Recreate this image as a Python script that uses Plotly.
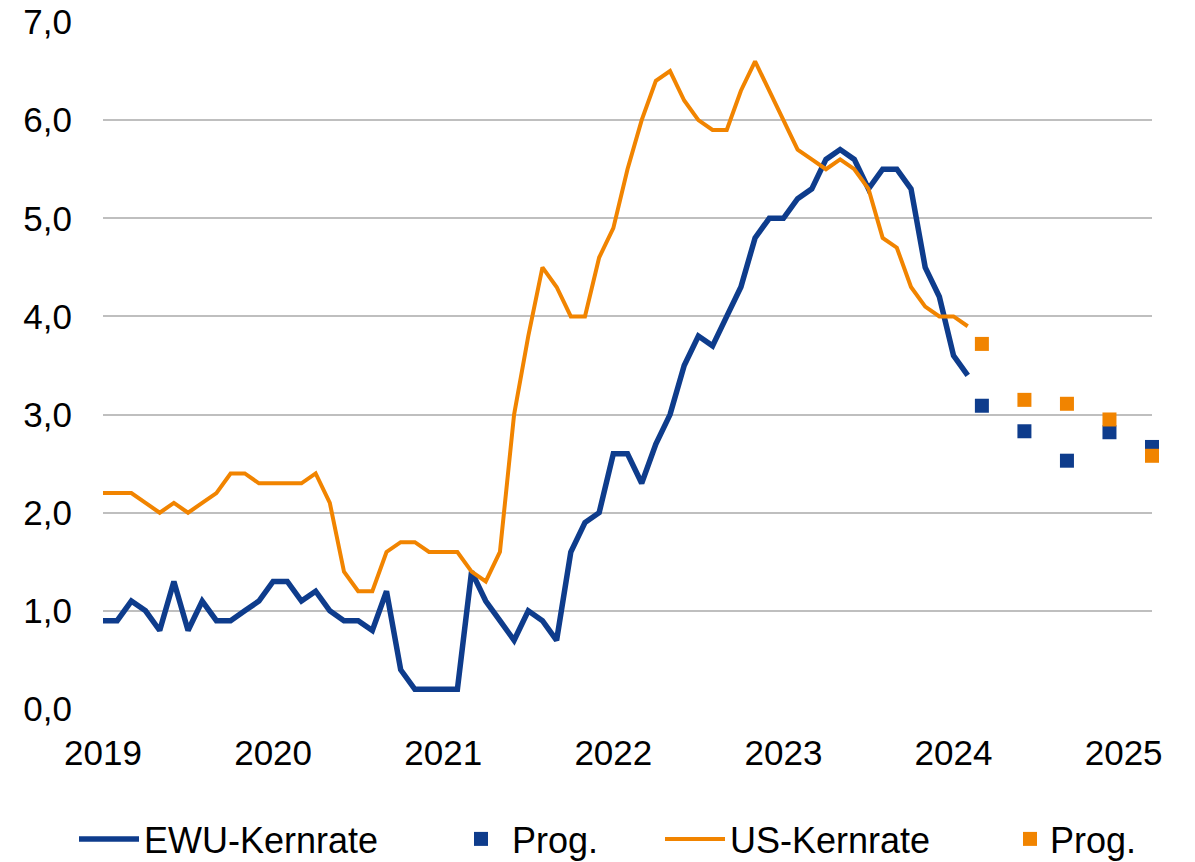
import plotly.graph_objects as go

# Monthly index positions (0 = first observation, labelled "2019")
year_labels = ["2019", "2020", "2021", "2022", "2023", "2024", "2025"]
year_positions = [0, 12, 24, 36, 48, 60, 72]

ewu_kernrate = [0.9, 0.9, 1.1, 1.0, 0.8, 1.3, 0.8, 1.1, 0.9, 0.9, 1.0, 1.1,
                1.3, 1.3, 1.1, 1.2, 1.0, 0.9, 0.9, 0.8, 1.2, 0.4, 0.2, 0.2,
                0.2, 0.2, 1.4, 1.1, 0.9, 0.7, 1.0, 0.9, 0.7, 1.6, 1.9, 2.0,
                2.6, 2.6, 2.3, 2.7, 3.0, 3.5, 3.8, 3.7, 4.0, 4.3, 4.8, 5.0,
                5.0, 5.2, 5.3, 5.6, 5.7, 5.6, 5.3, 5.5, 5.5, 5.3, 4.5, 4.2,
                3.6, 3.4]
us_kernrate = [2.2, 2.2, 2.2, 2.1, 2.0, 2.1, 2.0, 2.1, 2.2, 2.4, 2.4, 2.3,
               2.3, 2.3, 2.3, 2.4, 2.1, 1.4, 1.2, 1.2, 1.6, 1.7, 1.7, 1.6,
               1.6, 1.6, 1.4, 1.3, 1.6, 3.0, 3.8, 4.5, 4.3, 4.0, 4.0, 4.6,
               4.9, 5.5, 6.0, 6.4, 6.5, 6.2, 6.0, 5.9, 5.9, 6.3, 6.6, 6.3,
               6.0, 5.7, 5.6, 5.5, 5.6, 5.5, 5.3, 4.8, 4.7, 4.3, 4.1, 4.0,
               4.0, 3.9]
months = list(range(len(ewu_kernrate)))

prog_positions = [62, 65, 68, 71, 74]
ewu_prog = [3.09, 2.83, 2.53, 2.82, 2.67]
us_prog = [3.72, 3.15, 3.11, 2.95, 2.58]

BLUE = "#0E3C8C"
ORANGE = "#F18400"
FONT = "Arial, Liberation Sans, sans-serif"

fig = go.Figure()
fig.add_trace(go.Scatter(x=months, y=ewu_kernrate, mode="lines", name="EWU-Kernrate",
                         line=dict(color=BLUE, width=5.5), legend="legend"))
fig.add_trace(go.Scatter(x=prog_positions, y=ewu_prog, mode="markers", name="Prog.",
                         marker=dict(color=BLUE, symbol="square", size=14),
                         cliponaxis=False, legend="legend2"))
fig.add_trace(go.Scatter(x=months, y=us_kernrate, mode="lines", name="US-Kernrate",
                         line=dict(color=ORANGE, width=4), legend="legend3"))
fig.add_trace(go.Scatter(x=prog_positions, y=us_prog, mode="markers", name="Prog.",
                         marker=dict(color=ORANGE, symbol="square", size=14),
                         cliponaxis=False, legend="legend4"))

W, H = 1195, 862
leg_common = dict(xref="container", yref="container", y=1 - 839 / H, yanchor="middle",
                  xanchor="left", bgcolor="rgba(0,0,0,0)", borderwidth=0,
                  font=dict(family=FONT, size=36, color="#000000"))

fig.update_layout(
    width=W, height=H,
    showlegend=True,
    margin=dict(l=103, r=43, t=22, b=153, autoexpand=False),
    paper_bgcolor="white", plot_bgcolor="white",
    separators=", ",
    font=dict(family=FONT, size=35, color="#000000"),
    xaxis=dict(range=[0, 74], tickmode="array", tickvals=year_positions, ticktext=year_labels,
               showgrid=False, zeroline=False, showline=False, ticks="", automargin=False,
               ticklabelstandoff=20, tickfont=dict(size=35)),
    yaxis=dict(range=[0, 7], dtick=1, tick0=0, tickformat=".1f",
               showgrid=True, gridcolor="#BFBFBF", gridwidth=1.5,
               zeroline=False, showline=False, ticks="", automargin=False,
               ticklabelstandoff=30, tickfont=dict(size=35)),
    legend=dict(x=74 / W, itemwidth=60, visible=True, **leg_common),
    legend2=dict(x=450 / W, itemwidth=52, visible=True, **leg_common),
    legend3=dict(x=660 / W, itemwidth=60, visible=True, **leg_common),
    legend4=dict(x=1010 / W, itemwidth=30, visible=True, **leg_common),
)

fig.write_html("out.html", config={"displayModeBar": False},
               post_script="document.body.style.margin='0';")
